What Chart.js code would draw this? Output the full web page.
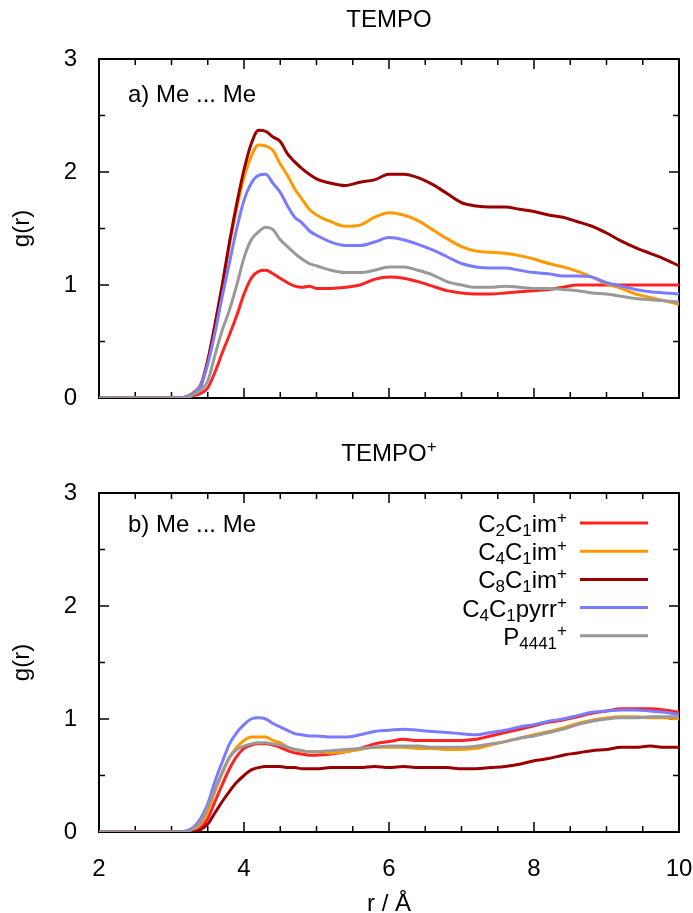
<!DOCTYPE html>
<html>
<head>
<meta charset="utf-8">
<script src="https://cdn.jsdelivr.net/npm/chart.js@4"></script>
<style>
  html, body { margin: 0; padding: 0; background: #fff; }
  body { width: 693px; height: 913px; overflow: hidden; }
  canvas { display: block; }
</style>
</head>
<body>
<canvas id="tempo" width="693" height="440"></canvas>
<canvas id="tempoPlus" width="693" height="480"></canvas>
<script>
// r / Å grid the curves were read at
const r = [2.0, 2.5, 3.0, 3.2,
  3.3, 3.4, 3.5, 3.6, 3.7, 3.8, 3.9, 4.0, 4.1, 4.2, 4.3, 4.4, 4.5, 4.6, 4.7, 4.8, 4.9, 5.0,
  5.2, 5.4, 5.6, 5.8, 6.0, 6.2, 6.4, 6.6, 6.8, 7.0, 7.2, 7.4, 7.6, 7.8, 8.0, 8.2, 8.4, 8.6, 8.8, 9.0, 9.2, 9.4, 9.6, 9.8, 10.0];

const names = ['C_2C_1im^+', 'C_4C_1im^+', 'C_8C_1im^+', 'C_4C_1pyrr^+', 'P_{4441}^+'];
const colors = ['#ff2222', '#ff9900', '#990000', '#7b7bff', '#999999'];

// a) TEMPO
const tempoC2 = [0, 0, 0, 0,
  0.02, 0.04, 0.09, 0.23, 0.40, 0.56, 0.73, 0.92, 1.06, 1.12, 1.13, 1.10, 1.06, 1.02, 0.99, 0.98, 0.99, 0.97,
  0.97, 0.98, 1.00, 1.05, 1.07, 1.06, 1.03, 0.99, 0.95, 0.93, 0.92, 0.92, 0.93, 0.94, 0.95, 0.96, 0.98, 1.00, 1.00, 1.00, 1.00, 1.00, 1.00, 1.00, 1.00];
const tempoC4 = [0, 0, 0, 0.01,
  0.05, 0.12, 0.33, 0.65, 1.00, 1.36, 1.68, 1.95, 2.14, 2.24, 2.23, 2.19, 2.07, 1.97, 1.85, 1.76, 1.67, 1.62,
  1.56, 1.52, 1.53, 1.60, 1.64, 1.62, 1.57, 1.49, 1.41, 1.34, 1.30, 1.29, 1.28, 1.26, 1.23, 1.19, 1.16, 1.12, 1.07, 1.01, 0.97, 0.92, 0.89, 0.86, 0.83];
const tempoC8 = [0, 0, 0, 0.01,
  0.04, 0.10, 0.33, 0.65, 1.00, 1.38, 1.72, 2.02, 2.25, 2.37, 2.36, 2.31, 2.27, 2.16, 2.09, 2.03, 1.98, 1.94,
  1.90, 1.88, 1.91, 1.93, 1.98, 1.98, 1.95, 1.89, 1.81, 1.73, 1.70, 1.69, 1.69, 1.67, 1.65, 1.62, 1.60, 1.56, 1.52, 1.46, 1.39, 1.33, 1.28, 1.23, 1.17];
const tempoPyrr = [0, 0, 0, 0.01,
  0.04, 0.11, 0.30, 0.58, 0.90, 1.20, 1.50, 1.75, 1.90, 1.97, 1.98, 1.90, 1.82, 1.70, 1.60, 1.55, 1.48, 1.44,
  1.38, 1.35, 1.35, 1.38, 1.42, 1.40, 1.36, 1.31, 1.25, 1.19, 1.16, 1.15, 1.15, 1.13, 1.11, 1.10, 1.08, 1.08, 1.07, 1.02, 0.99, 0.96, 0.94, 0.93, 0.92];
const tempoP4441 = [0, 0, 0, 0,
  0.03, 0.07, 0.15, 0.38, 0.60, 0.78, 1.00, 1.24, 1.40, 1.47, 1.51, 1.49, 1.40, 1.34, 1.28, 1.23, 1.19, 1.17,
  1.13, 1.11, 1.11, 1.13, 1.16, 1.16, 1.13, 1.09, 1.03, 1.00, 0.98, 0.98, 0.99, 0.98, 0.97, 0.97, 0.96, 0.95, 0.93, 0.92, 0.90, 0.88, 0.87, 0.86, 0.85];

// b) TEMPO+
const plusC2 = [0, 0, 0, 0,
  0.01, 0.04, 0.12, 0.27, 0.42, 0.56, 0.67, 0.74, 0.77, 0.78, 0.78, 0.77, 0.75, 0.72, 0.70, 0.69, 0.68, 0.68,
  0.69, 0.71, 0.74, 0.78, 0.80, 0.82, 0.81, 0.81, 0.81, 0.81, 0.82, 0.85, 0.88, 0.91, 0.94, 0.97, 0.99, 1.02, 1.05, 1.07, 1.09, 1.09, 1.09, 1.08, 1.06];
const plusC4 = [0, 0, 0, 0,
  0.02, 0.07, 0.18, 0.36, 0.52, 0.66, 0.75, 0.81, 0.84, 0.84, 0.84, 0.81, 0.79, 0.75, 0.73, 0.72, 0.71, 0.71,
  0.70, 0.71, 0.73, 0.75, 0.75, 0.75, 0.74, 0.74, 0.73, 0.73, 0.74, 0.77, 0.80, 0.83, 0.86, 0.89, 0.92, 0.96, 0.99, 1.01, 1.02, 1.02, 1.01, 1.01, 1.00];
const plusC8 = [0, 0, 0, 0,
  0.00, 0.02, 0.07, 0.17, 0.27, 0.36, 0.44, 0.50, 0.55, 0.57, 0.58, 0.58, 0.58, 0.57, 0.57, 0.56, 0.56, 0.56,
  0.57, 0.57, 0.57, 0.58, 0.57, 0.58, 0.57, 0.57, 0.57, 0.56, 0.56, 0.57, 0.58, 0.60, 0.63, 0.65, 0.68, 0.70, 0.72, 0.73, 0.75, 0.75, 0.76, 0.75, 0.75];
const plusPyrr = [0, 0, 0, 0.01,
  0.04, 0.12, 0.25, 0.45, 0.62, 0.78, 0.88, 0.95, 1.00, 1.01, 1.00, 0.96, 0.93, 0.90, 0.87, 0.86, 0.85, 0.85,
  0.84, 0.84, 0.86, 0.89, 0.90, 0.91, 0.90, 0.89, 0.88, 0.87, 0.86, 0.88, 0.90, 0.93, 0.95, 0.98, 1.00, 1.03, 1.06, 1.07, 1.08, 1.08, 1.07, 1.06, 1.04];
const plusP4441 = [0, 0, 0, 0,
  0.03, 0.09, 0.22, 0.38, 0.53, 0.66, 0.73, 0.76, 0.78, 0.79, 0.79, 0.78, 0.77, 0.75, 0.73, 0.72, 0.71, 0.71,
  0.72, 0.73, 0.74, 0.75, 0.76, 0.76, 0.76, 0.75, 0.75, 0.75, 0.76, 0.78, 0.80, 0.83, 0.85, 0.88, 0.91, 0.95, 0.98, 1.00, 1.01, 1.01, 1.02, 1.02, 1.02];

const FONT = '"Liberation Sans", Arial, sans-serif';
const MAIN = 24;
const SCRIPT = 17;

const isEven = v => Math.abs(v / 2 - Math.round(v / 2)) < 1e-6;
const isWhole = v => Math.abs(v - Math.round(v)) < 1e-6;

// split "C_2C_1im^+" / "P_{4441}^+" into normal, sub and super pieces
function pieces(text) {
  const out = [];
  let i = 0;
  while (i < text.length) {
    const c = text[i];
    if (c === '_' || c === '^') {
      let s;
      if (text[i + 1] === '{') {
        const j = text.indexOf('}', i);
        s = text.slice(i + 2, j);
        i = j + 1;
      } else {
        s = text[i + 1];
        i += 2;
      }
      out.push({ s, kind: c });
    } else {
      let j = i;
      while (j < text.length && text[j] !== '_' && text[j] !== '^') j++;
      out.push({ s: text.slice(i, j), kind: '' });
      i = j;
    }
  }
  return out;
}

function drawRich(ctx, text, x, y, align) {
  const ps = pieces(text);
  const fontFor = p => (p.kind ? SCRIPT : MAIN) + 'px ' + FONT;
  let w = 0;
  ps.forEach(p => { ctx.font = fontFor(p); p.w = ctx.measureText(p.s).width; w += p.w; });
  let cx = align === 'right' ? x - w : align === 'center' ? x - w / 2 : x;
  ctx.textAlign = 'left';
  ctx.textBaseline = 'alphabetic';
  ps.forEach(p => {
    ctx.font = fontFor(p);
    const dy = p.kind === '_' ? 4 : p.kind === '^' ? -9 : 0;
    ctx.fillText(p.s, cx, y + dy);
    cx += p.w;
  });
}

// gnuplot-like frame with inward ticks, panel title, panel tag, legend
const frame = {
  id: 'frame',
  beforeDatasetsDraw(chart, args, opts) {
    const { ctx, chartArea: a, scales: { x, y } } = chart;
    ctx.save();
    ctx.strokeStyle = '#000';
    ctx.lineWidth = 1.5;
    ctx.beginPath();
    x.ticks.forEach(t => {
      const px = x.getPixelForValue(t.value);
      const len = isEven(t.value) ? 10 : 6;
      ctx.moveTo(px, a.bottom); ctx.lineTo(px, a.bottom - len);
      ctx.moveTo(px, a.top); ctx.lineTo(px, a.top + len);
    });
    y.ticks.forEach(t => {
      const py = y.getPixelForValue(t.value);
      const len = isWhole(t.value) ? 10 : 6;
      ctx.moveTo(a.left, py); ctx.lineTo(a.left + len, py);
      ctx.moveTo(a.right, py); ctx.lineTo(a.right - len, py);
    });
    ctx.stroke();
    ctx.lineWidth = 2;
    ctx.strokeRect(a.left, a.top, a.right - a.left, a.bottom - a.top);
    ctx.restore();
  },
  afterDraw(chart, args, opts) {
    const { ctx, chartArea: a } = chart;
    ctx.save();
    ctx.fillStyle = '#000';
    drawRich(ctx, opts.title, (a.left + a.right) / 2, a.top - 32, 'center');
    drawRich(ctx, opts.tag, a.left + 29, a.top + opts.tagDy, 'left');
    if (opts.legend) {
      chart.data.datasets.forEach((ds, i) => {
        const ry = a.top + 30 + i * 28.2;
        ctx.fillStyle = '#000';
        drawRich(ctx, names[i], a.right - 112, ry + 9, 'right');
        ctx.strokeStyle = ds.borderColor;
        ctx.lineWidth = 3;
        ctx.beginPath();
        ctx.moveTo(a.right - 99, ry);
        ctx.lineTo(a.right - 31, ry);
        ctx.stroke();
      });
    }
    ctx.restore();
  }
};

function makeChart(id, series, opt) {
  const tickFont = { size: MAIN, family: FONT };
  return new Chart(document.getElementById(id), {
    type: 'line',
    data: {
      datasets: series.map((vals, i) => ({
        label: names[i],
        data: r.map((rv, k) => ({ x: rv, y: vals[k] })),
        borderColor: colors[i],
        borderWidth: 3,
        pointRadius: 0,
        fill: false,
        cubicInterpolationMode: 'monotone',
        order: series.length - 1 - i
      }))
    },
    options: {
      responsive: false,
      animation: false,
      events: [],
      layout: { padding: { top: opt.top, right: 0, left: 0, bottom: 0 } },
      plugins: {
        legend: { display: false },
        tooltip: { enabled: false },
        frame: { title: opt.title, tag: opt.tag, tagDy: opt.tagDy, legend: opt.legend }
      },
      scales: {
        x: {
          type: 'linear',
          min: 2,
          max: 10,
          grid: { display: false },
          border: { display: false },
          ticks: {
            display: opt.xLabels,
            stepSize: 0.5,
            autoSkip: false,
            maxRotation: 0,
            padding: 15,
            color: '#000',
            font: tickFont,
            callback: v => isEven(v) ? String(v) : ''
          },
          title: {
            display: opt.xLabels,
            text: 'r / Å',
            color: '#000',
            font: tickFont,
            padding: { top: 0, bottom: 1 }
          },
          afterFit: s => {
            s.height = opt.xHeight;
            s.paddingLeft = 0;
            s.paddingRight = 14;
          }
        },
        y: {
          min: 0,
          max: 3,
          grid: { display: false },
          border: { display: false },
          ticks: {
            stepSize: 0.5,
            padding: 14,
            color: '#000',
            font: tickFont,
            callback: v => isWhole(v) ? String(v) : ''
          },
          title: {
            display: true,
            text: 'g(r)',
            color: '#000',
            font: tickFont,
            padding: { top: 8, bottom: 0 }
          },
          afterFit: s => { s.width = 99; }
        }
      }
    },
    plugins: [frame]
  });
}

makeChart('tempo', [tempoC2, tempoC4, tempoC8, tempoPyrr, tempoP4441], {
  top: 59, xHeight: 42, xLabels: false, title: 'TEMPO', tag: 'a) Me ... Me', tagDy: 43, legend: false
});
makeChart('tempoPlus', [plusC2, plusC4, plusC8, plusPyrr, plusP4441], {
  top: 53, xHeight: 88, xLabels: true, title: 'TEMPO^+', tag: 'b) Me ... Me', tagDy: 39, legend: true
});
</script>
</body>
</html>
